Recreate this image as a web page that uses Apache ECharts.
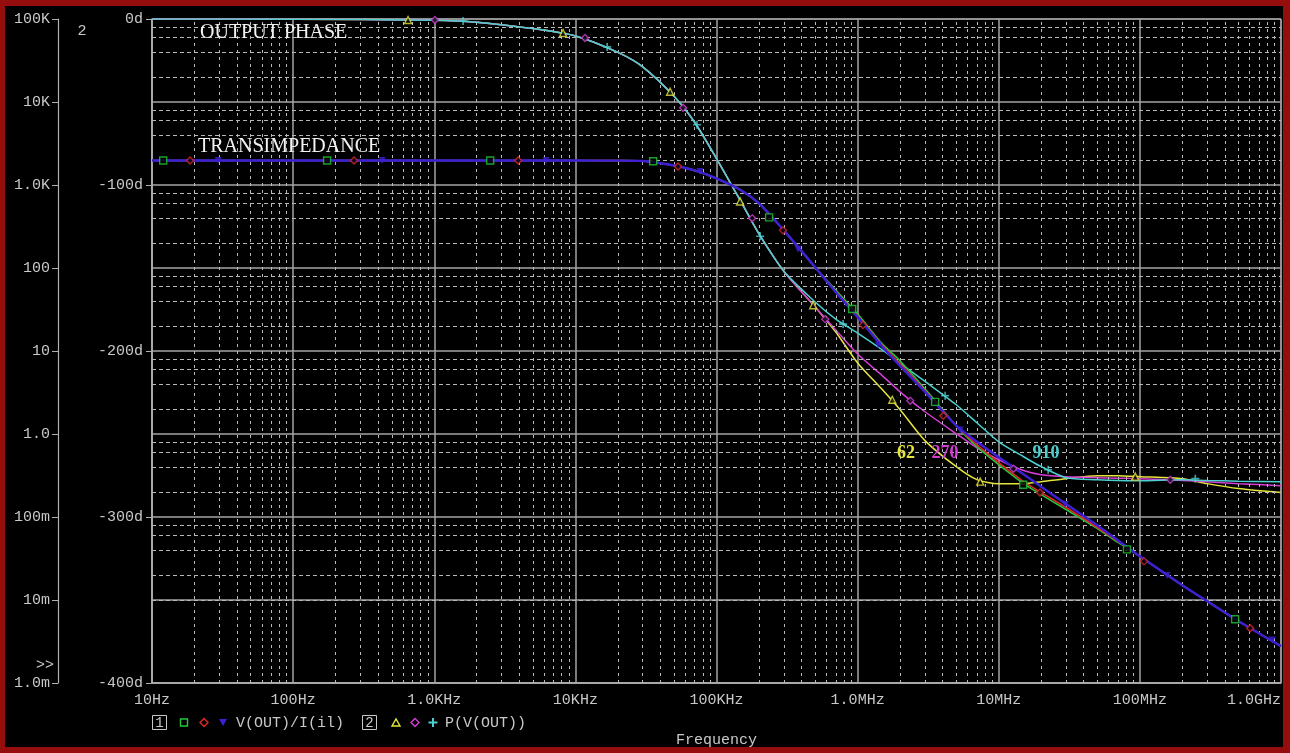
<!DOCTYPE html>
<html><head><meta charset="utf-8">
<script src="https://cdn.jsdelivr.net/npm/echarts@6/dist/echarts.min.js"></script>
<style>html,body{margin:0;padding:0;background:#000;}#c{width:1290px;height:753px;}</style>
</head><body><div id="c"></div>
<script>
// ---------- DATA ----------
const freqs = [10, 100, 1e3, 2e3, 5e3, 1e4, 2e4, 3e4, 5e4, 7e4, 1e5, 1.5e5, 2e5, 3e5, 5e5, 7e5,
  1e6, 1.5e6, 2e6, 3e6, 5e6, 7e6, 1e7, 1.5e7, 2e7, 3e7, 5e7, 7e7, 1e8, 2e8, 3e8, 5e8, 1e9];

// V(OUT)/I(i1) magnitude (ohms), three runs
const magGreen = [1970, 1970, 1970, 1970, 1970, 1970, 1965, 1950, 1720, 1500, 1200, 860, 600, 284, 102, 54.1,
  27.8, 12.1, 7.59, 3.50, 1.26, 0.703, 0.427, 0.252, 0.186, 0.123, 0.0727, 0.0494, 0.0336, 0.0150, 0.00966, 0.00556, 0.00278];
const magRed = [1970, 1970, 1970, 1970, 1970, 1970, 1965, 1950, 1720, 1500, 1200, 860, 600, 284, 102, 52,
  26.5, 11.6, 7.0, 3.35, 1.26, 0.743, 0.452, 0.267, 0.197, 0.130, 0.0748, 0.0508, 0.0336, 0.0150, 0.00966, 0.00556, 0.00278];
const magBlue = [1970, 1970, 1970, 1970, 1970, 1970, 1965, 1950, 1720, 1500, 1200, 860, 600, 284, 102, 51,
  25.6, 11.2, 6.61, 3.22, 1.26, 0.807, 0.526, 0.327, 0.232, 0.143, 0.0791, 0.0522, 0.0336, 0.01503, 0.00966, 0.00556, 0.00278];

// P(V(OUT)) phase (degrees), three runs
const phase62 = [0, -0.1, -0.7, -1.9, -5.8, -10.2, -20.1, -28.8, -46.5, -62.2, -84.1, -110.5, -129.5, -152, -173.5, -188.6,
  -207.2, -223.4, -235.4, -254, -269.7, -277.5, -279.9, -279.9, -278.7, -276.9, -275.1, -275.1, -275.7, -276.9, -279.9, -282.9, -285.3];
const phase270 = [0, -0.1, -0.7, -1.9, -5.8, -10.2, -20.1, -28.8, -46.5, -62.2, -84.1, -110.5, -129.5, -152, -173.5, -187.4,
  -201.8, -215, -224.6, -236.6, -249.8, -258.3, -265.5, -272, -274.5, -275.7, -276.3, -276.6, -276.9, -278, -278.7, -279.9, -281.1];
const phase910 = [0, -0.1, -0.7, -1.9, -5.8, -10.2, -20.1, -28.8, -46.5, -62.2, -84.1, -110.5, -129.5, -152, -170.5, -180.8,
  -189.2, -199.4, -207.4, -218.3, -232.4, -243.2, -254.7, -263.7, -269.7, -276.3, -277.5, -278, -278.1, -277.5, -278, -278.4, -278.7];

// trace markers (frequency, value)
const mkGreenF = [12, 174, 2490, 35600, 236000, 915000, 3.54e6, 1.49e7, 8.1e7, 4.73e8];
const mkGreenV = [1970, 1970, 1970, 1930, 407, 32.0, 2.44, 0.245, 0.0407, 0.00587];
const mkRedF = [18.6, 270, 3930, 53400, 296000, 1.09e6, 4.04e6, 1.96e7, 1.07e8, 6.05e8];
const mkRedV = [1970, 1970, 1970, 1667, 284, 20.5, 1.66, 0.197, 0.0292, 0.00458];
const mkBlueF = [29.4, 427, 6200, 76500, 378000, 1.40e6, 5.33e6, 2.96e7, 1.56e8, 8.67e8];
const mkBlueV = [1970, 1970, 1970, 1453, 168, 11.8, 1.12, 0.141, 0.0198, 0.00329];
const mkYellowF = [652, 8180, 46900, 147000, 484000, 1.76e6, 7.39e6, 9.27e7];
const mkYellowV = [-0.6, -8.4, -43.8, -109.9, -172.4, -229.4, -278.7, -275.7];
const mkMagentaF = [1010, 11700, 58000, 179000, 589000, 2.36e6, 1.27e7, 1.64e8];
const mkMagentaV = [-0.6, -11.4, -53.5, -120.1, -180.8, -230, -270.9, -277.5];
const mkCyanF = [1600, 16800, 72800, 204000, 789000, 4.17e6, 2.24e7, 2.47e8];
const mkCyanV = [-1.2, -16.8, -63.7, -130.9, -183.8, -227, -271.5, -276.9];

// tick labels
const xTickLabels = ['10Hz', '100Hz', '1.0KHz', '10KHz', '100KHz', '1.0MHz', '10MHz', '100MHz', '1.0GHz'];
const magTickLabels = ['1.0m', '10m', '100m', '1.0', '10', '100', '1.0K', '10K', '100K'];
const phaseTickSuffix = 'd';

// ---------- STYLE ----------
const C = {
  green: '#22c83a', red: '#e02828', blue: '#3d1fd6',
  yellow: '#e6e63c', magenta: '#d63cd6', cyan: '#4ccfcf',
  txt: '#c8c8c8', axis: '#b0b0b0', major: '#a4a4a4', minor: '#b8b8b8', frame: '#960d0d'
};
const MONO = '"Liberation Mono", "DejaVu Sans Mono", monospace';
const SERIF = '"Liberation Serif", "DejaVu Serif", serif';

// minor grid helpers (log 2..9 vertical, 2,4,6,8 horizontal)
const minorX = [], minorY = [];
for (let d = 1; d < 9; d++) for (let m = 2; m <= 9; m++) minorX.push(m * Math.pow(10, d));
for (let d = -3; d < 5; d++) for (const m of [2, 4, 6, 8]) minorY.push(m * Math.pow(10, d));

const pair = (xs, ys) => xs.map((x, i) => [x, ys[i]]);
const crossPath = 'path://M4,0H6V4H10V6H6V10H4V6H0V4H4Z';

function lineSeries(name, ys, yIdx, color, width, z) {
  return { name, type: 'line', xAxisIndex: 0, yAxisIndex: yIdx, data: pair(freqs, ys),
    symbol: 'none', smooth: 0.25, z,
    lineStyle: { color, width }, silent: true };
}
function markSeries(name, fs, vs, yIdx, symbol, color, hollow, z, rotate) {
  return { name, type: 'scatter', xAxisIndex: 0, yAxisIndex: yIdx, data: pair(fs, vs), symbol,
    symbolSize: symbol === crossPath ? 8 : 7, symbolRotate: rotate || 0, z, silent: true,
    itemStyle: hollow ? { color: '#000', borderColor: color, borderWidth: 1.4 } : { color } };
}

const chart = echarts.init(document.getElementById('c'), null, { renderer: 'canvas' });

const graphics = [
  // frame
  { type: 'rect', shape: { x: 0, y: 0, width: 5, height: 753 }, style: { fill: C.frame }, z: 100 },
  { type: 'rect', shape: { x: 0, y: 0, width: 1290, height: 6 }, style: { fill: C.frame }, z: 100 },
  { type: 'rect', shape: { x: 1283, y: 0, width: 7, height: 753 }, style: { fill: C.frame }, z: 100 },
  { type: 'rect', shape: { x: 0, y: 747, width: 1290, height: 6 }, style: { fill: C.frame }, z: 100 },
  // annotations
  { type: 'text', x: 200, y: 33, style: { text: 'OUTPUT PHASE', fill: '#f2f2f2', font: '20px ' + SERIF, verticalAlign: 'middle' }, z: 50 },
  { type: 'text', x: 198, y: 147, style: { text: 'TRANSIMPEDANCE', fill: '#f2f2f2', font: '20px ' + SERIF, verticalAlign: 'middle' }, z: 50 },
  { type: 'text', x: 906, y: 453, style: { text: '62', fill: C.yellow, font: 'bold 18px ' + SERIF, align: 'center', verticalAlign: 'middle' }, z: 50 },
  { type: 'text', x: 945, y: 453, style: { text: '270', fill: C.magenta, font: 'bold 18px ' + SERIF, align: 'center', verticalAlign: 'middle' }, z: 50 },
  { type: 'text', x: 1046, y: 453, style: { text: '910', fill: C.cyan, font: 'bold 18px ' + SERIF, align: 'center', verticalAlign: 'middle' }, z: 50 },
  { type: 'text', x: 82, y: 31, style: { text: '2', fill: C.txt, font: '15px ' + MONO, align: 'center', verticalAlign: 'middle' } },
  { type: 'text', x: 45, y: 665, style: { text: '>>', fill: C.txt, font: '15px ' + MONO, align: 'center', verticalAlign: 'middle' } },
  // legend row
  { type: 'rect', shape: { x: 152.5, y: 715.5, width: 14, height: 14 }, style: { fill: 'none', stroke: C.txt, lineWidth: 1 } },
  { type: 'text', x: 159.5, y: 723, style: { text: '1', fill: C.txt, font: '14px ' + MONO, align: 'center', verticalAlign: 'middle' } },
  { type: 'rect', shape: { x: 180.5, y: 719, width: 7, height: 7 }, style: { fill: 'none', stroke: C.green, lineWidth: 1.4 } },
  { type: 'polygon', shape: { points: [[204, 718.5], [208, 722.5], [204, 726.5], [200, 722.5]] }, style: { fill: 'none', stroke: C.red, lineWidth: 1.4 } },
  { type: 'polygon', shape: { points: [[219, 719], [227, 719], [223, 726]] }, style: { fill: C.blue } },
  { type: 'text', x: 236, y: 723, style: { text: 'V(OUT)/I(il)', fill: C.txt, font: '15px ' + MONO, verticalAlign: 'middle' } },
  { type: 'rect', shape: { x: 362.5, y: 715.5, width: 14, height: 14 }, style: { fill: 'none', stroke: C.txt, lineWidth: 1 } },
  { type: 'text', x: 369.5, y: 723, style: { text: '2', fill: C.txt, font: '14px ' + MONO, align: 'center', verticalAlign: 'middle' } },
  { type: 'polygon', shape: { points: [[392, 726], [400, 726], [396, 719]] }, style: { fill: 'none', stroke: C.yellow, lineWidth: 1.4 } },
  { type: 'polygon', shape: { points: [[415, 718.5], [419, 722.5], [415, 726.5], [411, 722.5]] }, style: { fill: 'none', stroke: C.magenta, lineWidth: 1.4 } },
  { type: 'polygon', shape: { points: [[432, 718], [434, 718], [434, 721.5], [437.5, 721.5], [437.5, 723.5], [434, 723.5], [434, 727], [432, 727], [432, 723.5], [428.5, 723.5], [428.5, 721.5], [432, 721.5]] }, style: { fill: C.cyan } },
  { type: 'text', x: 445, y: 723, style: { text: 'P(V(OUT))', fill: C.txt, font: '15px ' + MONO, verticalAlign: 'middle' } }
];

const option = {
  backgroundColor: '#000',
  animation: false,
  grid: { left: 152, right: 9, top: 19, bottom: 68, show: true, backgroundColor: '#000', borderColor: C.axis, borderWidth: 1 },
  xAxis: [{
    type: 'log', logBase: 10, min: 10, max: 1e9, splitNumber: 8,
    axisLine: { show: true, onZero: false, lineStyle: { color: C.axis, width: 1.5 } },
    axisTick: { show: false },
    axisLabel: { color: C.txt, fontFamily: MONO, fontSize: 15, margin: 10, alignMaxLabel: 'right',
      formatter: v => xTickLabels[Math.round(Math.log10(v)) - 1] || '' },
    splitLine: { show: true, lineStyle: { color: C.major, width: 1.5 } },
    name: 'Frequency', nameLocation: 'middle', nameGap: 50,
    nameTextStyle: { color: C.txt, fontFamily: MONO, fontSize: 15 }
  }],
  yAxis: [{
    type: 'log', logBase: 10, min: 1e-3, max: 1e5, splitNumber: 8, position: 'left', offset: 94,
    axisLine: { show: true, onZero: false, lineStyle: { color: C.axis, width: 1.2 } },
    axisTick: { show: true, length: 6, lineStyle: { color: C.axis } },
    axisLabel: { color: C.txt, fontFamily: MONO, fontSize: 15, margin: 8,
      formatter: v => magTickLabels[Math.round(Math.log10(v)) + 3] || '' },
    splitLine: { show: true, lineStyle: { color: C.major, width: 1.5 } }
  }, {
    type: 'value', min: -400, max: 0, interval: 100, position: 'left', offset: 0,
    axisLine: { show: true, onZero: false, lineStyle: { color: C.axis, width: 1.5 } },
    axisTick: { show: true, length: 6, lineStyle: { color: C.axis } },
    axisLabel: { color: C.txt, fontFamily: MONO, fontSize: 15, margin: 9,
      formatter: v => v + phaseTickSuffix },
    splitLine: { show: false }
  }],
  graphic: graphics,
  series: [
    { name: 'minorGrid', type: 'line', xAxisIndex: 0, yAxisIndex: 0, data: [[10, 1]], symbol: 'none',
      lineStyle: { opacity: 0 }, silent: true, z: 1,
      markLine: { silent: true, symbol: ['none', 'none'], label: { show: false }, animation: false,
        lineStyle: { color: C.minor, type: [3, 4], width: 1 },
        data: minorX.map(f => ({ xAxis: f })).concat(minorY.map(v => ({ yAxis: v, lineStyle: { color: C.minor, type: [4, 3], width: 1 } }))) } },
    lineSeries('phase62', phase62, 1, C.yellow, 1.5, 3),
    lineSeries('phase270', phase270, 1, C.magenta, 1.5, 4),
    lineSeries('phase910', phase910, 1, C.cyan, 1.5, 5),
    lineSeries('mag1', magGreen, 0, C.green, 1.6, 6),
    lineSeries('mag2', magRed, 0, C.red, 1.6, 7),
    lineSeries('mag3', magBlue, 0, C.blue, 2.4, 8),
    markSeries('mk62', mkYellowF, mkYellowV, 1, 'triangle', C.yellow, true, 10),
    markSeries('mk270', mkMagentaF, mkMagentaV, 1, 'diamond', C.magenta, true, 10),
    markSeries('mk910', mkCyanF, mkCyanV, 1, crossPath, C.cyan, false, 10),
    markSeries('mkG', mkGreenF, mkGreenV, 0, 'rect', C.green, true, 11),
    markSeries('mkR', mkRedF, mkRedV, 0, 'diamond', C.red, true, 11),
    markSeries('mkB', mkBlueF, mkBlueV, 0, 'triangle', C.blue, false, 11, 180)
  ]
};
chart.setOption(option);
</script>
</body></html>
